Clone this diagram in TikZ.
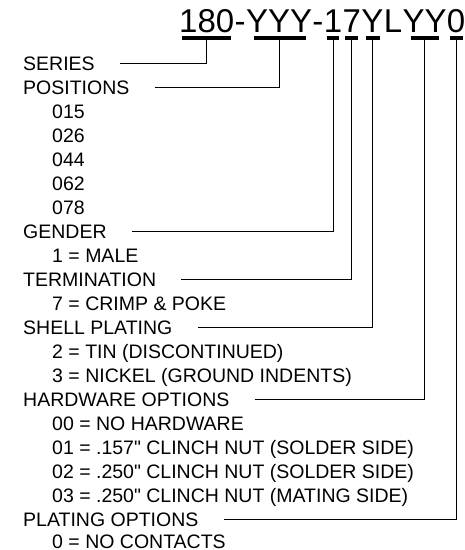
\documentclass[tikz,border=0pt]{standalone}
\usepackage{fontspec}
\setmainfont{Liberation Sans}[Ligatures=TeXOff]
\usetikzlibrary{positioning}

\begin{document}
\begin{tikzpicture}[x=1pt,y=-1pt,
  every node/.style={inner sep=0pt,font=\fontsize{19.5}{24}\selectfont},
  code/.style={font=\fontsize{33}{36}\selectfont,text height=24pt,text depth=0pt},
  head/.style={anchor=west,text height=14pt,text depth=0pt},
  item/.style={anchor=west,text height=14pt,text depth=0pt},
  uline/.style={line width=3.5pt,shorten <=3pt,shorten >=3pt},
  lead/.style={draw,line width=0.8pt,shorten <=25pt}]

\useasboundingbox (0,0) rectangle (465,550);

% part number
\node[code,anchor=base west] (t180) at (179,32) {180};
\node[code,base right=0pt of t180] (d1) {-};
\node[code,base right=0pt of d1] (tpos) {YYY};
\node[code,base right=0pt of tpos] (d2) {-};
\node[code,base right=0pt of d2] (tgen) {1};
\node[code,base right=0pt of tgen] (tterm) {7};
\node[code,base right=0pt of tterm] (tshell) {Y};
\node[code,base right=0pt of tshell] (tl) {L};
\node[code,base right=0pt of tl] (thw) {YY};
\node[code,base right=0pt of thw] (tplat) {0};

\draw[uline] ([yshift=-6pt]t180.base west) -- ([yshift=-6pt]t180.base east);
\draw[uline,shorten <=8pt,shorten >=6pt] ([yshift=-6pt]tpos.base west) -- ([yshift=-6pt]tpos.base east);
\draw[uline] ([yshift=-6pt]tgen.base west) -- ([yshift=-6pt]tgen.base east);
\draw[uline] ([yshift=-6pt]tterm.base west) -- ([yshift=-6pt]tterm.base east);
\draw[uline,shorten <=5pt,shorten >=4pt] ([yshift=-6pt]tshell.base west) -- ([yshift=-6pt]tshell.base east);
\draw[uline,shorten <=9pt,shorten >=8pt] ([yshift=-6pt]thw.base west) -- ([yshift=-6pt]thw.base east);
\draw[uline] ([yshift=-6pt]tplat.base west) -- ([yshift=-6pt]tplat.base east);

\coordinate (c180) at ([yshift=-6pt]t180.base);
\coordinate (cpos) at ([yshift=-6pt]tpos.base);
\coordinate (cgen) at ([yshift=-6pt]tgen.base);
\coordinate (cterm) at ([yshift=-6pt]tterm.base);
\coordinate (cshell) at ([yshift=-6pt]tshell.base);
\coordinate (chw) at ([yshift=-6pt]thw.base);
\coordinate (cplat) at ([yshift=-6pt]tplat.base);

% option list
\node[head] (series) at (23,63) {SERIES};
\node[head] (positions) at (23,87) {POSITIONS};
\node[item] (p015) at (52,111) {015};
\node[item] (p026) at (52,135) {026};
\node[item] (p044) at (52,159) {044};
\node[item] (p062) at (52,183) {062};
\node[item] (p078) at (52,207) {078};
\node[head] (gender) at (23,231) {GENDER};
\node[item] (male) at (52,255) {1 = MALE};
\node[head] (termination) at (23,279) {TERMINATION};
\node[item] (crimp) at (52,303) {7 = CRIMP \& POKE};
\node[head] (shell) at (23,327) {SHELL PLATING};
\node[item] (tin) at (52,351) {2 = TIN (DISCONTINUED)};
\node[item] (nickel) at (52,375) {3 = NICKEL (GROUND INDENTS)};
\node[head] (hardware) at (23,399) {HARDWARE OPTIONS};
\node[item] (hw00) at (52,423) {00 = NO HARDWARE};
\node[item] (hw01) at (52,447) {01 = .157" CLINCH NUT (SOLDER SIDE)};
\node[item] (hw02) at (52,471) {02 = .250" CLINCH NUT (SOLDER SIDE)};
\node[item] (hw03) at (52,495) {03 = .250" CLINCH NUT (MATING SIDE)};
\node[head] (plating) at (23,519) {PLATING OPTIONS};
\node[item] (nocont) at (52,541) {0 = NO CONTACTS};

% leaders
\draw[lead] (series.east) -| (c180);
\draw[lead] (positions.east) -| (cpos);
\draw[lead] (gender.east) -| (cgen);
\draw[lead] (termination.east) -| (cterm);
\draw[lead] (shell.east) -| (cshell);
\draw[lead] (hardware.east) -| (chw);
\draw[lead] (plating.east) -| (cplat);
\end{tikzpicture}
\end{document}
